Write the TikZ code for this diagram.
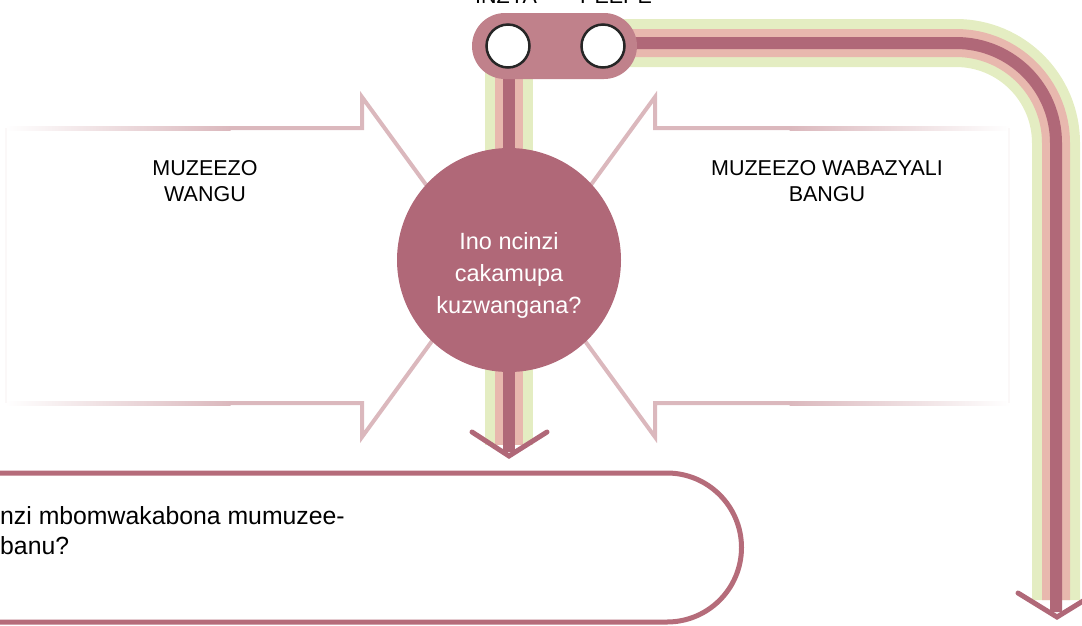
\documentclass[tikz,border=0pt]{standalone}
\usepackage{fontspec}
\setmainfont{Liberation Sans}
\definecolor{pillc}{HTML}{C0818B}
\definecolor{darkc}{HTML}{B06878}
\definecolor{pinkc}{HTML}{E8B8AE}
\definecolor{greenc}{HTML}{E4EDC2}
\definecolor{arrc}{HTML}{DBB8BD}
\definecolor{boxc}{HTML}{B56C7A}
\begin{document}
\begin{tikzpicture}[x=1pt,y=-1pt,
  arrline/.style={draw=arrc, line width=4pt, line join=miter},
  chev/.style={draw=darkc, line width=5pt, line cap=round, line join=miter},
  hole/.style={circle, fill=white, draw=black!85, line width=2.5pt, minimum size=43pt, inner sep=0pt},
  lbl/.style={font=\fontsize{21.5}{26}\selectfont, align=center, text=black, inner sep=0pt},
  toplbl/.style={font=\fontsize{21.5}{26}\selectfont, text=black, inner sep=0pt, anchor=base west}]
\useasboundingbox (0,0) rectangle (1082,625);
\clip (0,0) rectangle (1082,625);

% left block arrow
\draw[arrline] (230,128) -- (362,128) -- (362,97) -- (486,267) -- (362,437) -- (362,403) -- (230,403);
\shade[left color=white, right color=arrc] (5,126) rectangle (230.5,130);
\shade[left color=white, right color=arrc] (5,401) rectangle (230.5,405);
\draw[arrc!10, line width=1.5pt] (6,128) -- (6,403);

% right block arrow
\draw[arrline] (790,128) -- (655,128) -- (655,97) -- (531,267) -- (655,437) -- (655,403) -- (790,403);
\shade[left color=arrc, right color=white] (789.5,126) rectangle (1010,130);
\shade[left color=arrc, right color=white] (789.5,401) rectangle (1010,405);
\draw[arrc!10, line width=1.5pt] (1009,128) -- (1009,403);

% stripes
\foreach \w/\c/\e in {48/greenc/600, 28/pinkc/600, 12/darkc/612}{
  \draw[line width=\w pt, draw=\c] (603,43) -- (956,43) arc[start angle=-90,end angle=0,radius=100] -- (1056,\e);
}
\foreach \w/\c/\e in {48/greenc/445, 28/pinkc/445, 12/darkc/452}{
  \draw[line width=\w pt, draw=\c] (509,60) -- (509,\e);
}
\coordinate (c1l) at (472,432);
\coordinate (c1a) at (509,456);
\coordinate (c1r) at (547,432);
\draw[chev] (c1l) -- (c1a) -- (c1r);
\coordinate (c2l) at (1018,593);
\coordinate (c2a) at (1057,617);
\coordinate (c2r) at (1096,593);
\draw[chev] (c2l) -- (c2a) -- (c2r);

% pill with two holes
\node[fill=pillc, rounded corners=33pt, minimum width=165pt, minimum height=66pt, inner sep=0pt] (pill) at (554.5,46) {};
\node[hole] (h1) at (508,46) {};
\node[hole] (h2) at (603,46) {};
\node[toplbl] (t1) at (475,3) {INZYA};
\node[toplbl] (t2) at (580,3) {PEEPE};

% central circle
\node[circle, fill=darkc, minimum size=224pt, inner sep=0pt] (q) at (509,260) {};
\node[font=\fontsize{23.5}{32}\selectfont, align=center, text=white, inner sep=0pt] (qt) at (509,275) {Ino ncinzi\\cakamupa\\kuzwangana?};

% labels
\node[lbl] (l1) at (205,181) {MUZEEZO\\WANGU};
\node[lbl] (l2) at (827,181) {MUZEEZO WABAZYALI\\BANGU};

% bottom box
\draw[boxc, line width=5pt] (-10,473) -- (667,473) arc[start angle=-90,end angle=90,radius=74.5] -- (-10,622);
\node[font=\fontsize{24.8}{30}\selectfont, align=left, anchor=base west, inner sep=0pt] (bt) at (0,554) {nzi mbomwakabona mumuzee-\\banu?};
\end{tikzpicture}
\end{document}
